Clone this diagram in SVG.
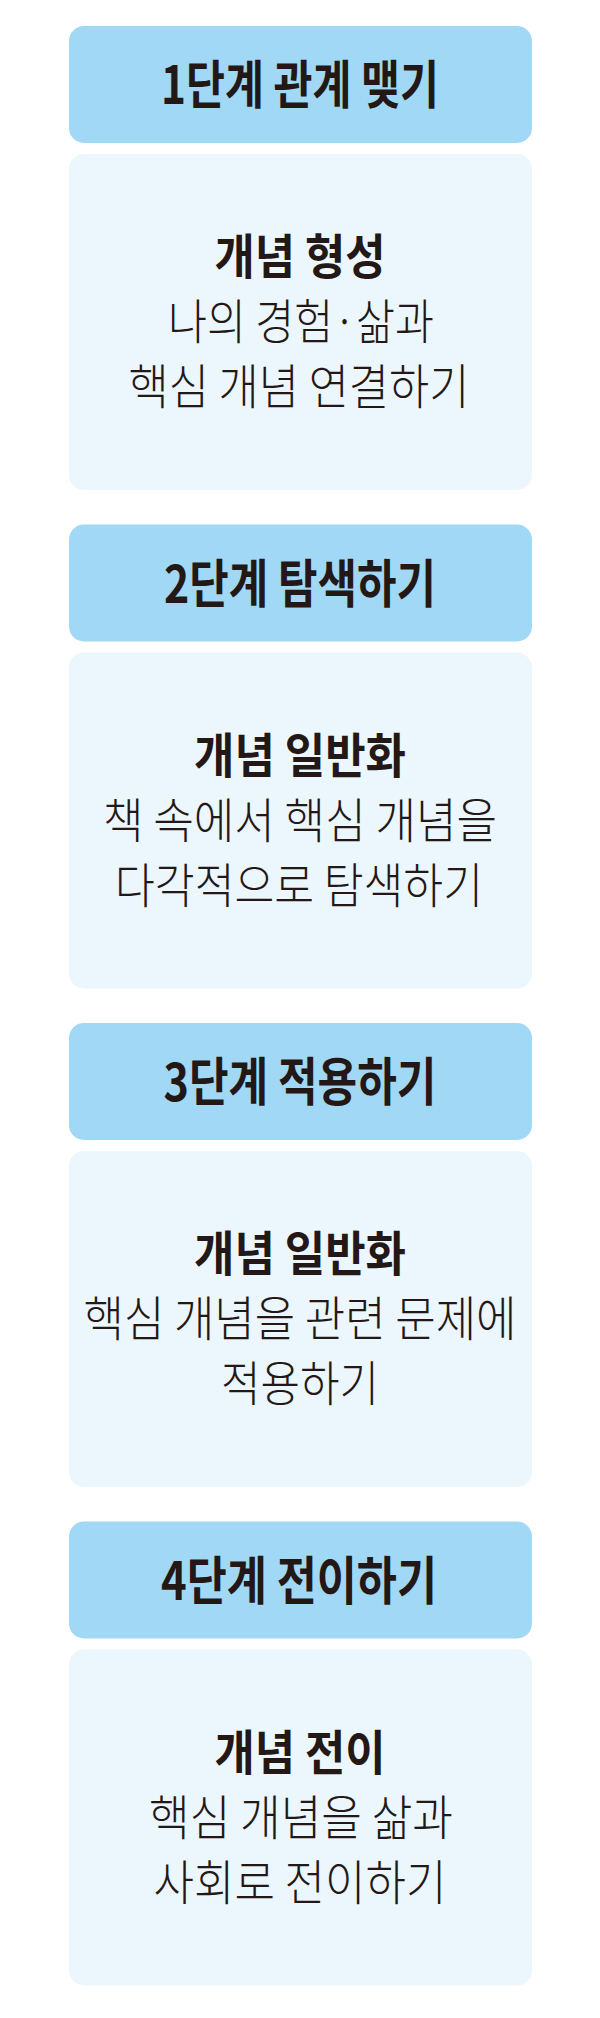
<svg xmlns="http://www.w3.org/2000/svg" width="600" height="2018" viewBox="0 0 600 2018">
<style>
.hd{fill:#A0D8F5}
.bd{fill:#EBF6FD}
text{font-family:"Noto Sans CJK KR","Noto Sans",sans-serif;fill:#231815;text-anchor:middle}
.t{font-size:52px;font-weight:700}
.b{font-size:48px;font-weight:700}
.r{font-size:48px;font-weight:300}
</style>
<rect width="600" height="2018" fill="#FFFFFF"/>
<g id="step1">
<rect class="hd" x="69" y="26" width="463" height="117" rx="15"/>
<text class="t" x="300" y="104" textLength="278" lengthAdjust="spacingAndGlyphs">1단계 관계 맺기</text>
</g>
<g id="body1">
<rect class="bd" x="69" y="154" width="463" height="336" rx="15"/>
<text class="b" x="300" y="274" textLength="171" lengthAdjust="spacingAndGlyphs">개념 형성</text>
<text class="r" x="301" y="339" textLength="266" lengthAdjust="spacingAndGlyphs">나의 경험·삶과</text>
<text class="r" x="299" y="404" textLength="341" lengthAdjust="spacingAndGlyphs">핵심 개념 연결하기</text>
</g>
<g id="step2">
<rect class="hd" x="69" y="524.5" width="463" height="117" rx="15"/>
<text class="t" x="300" y="602.5" textLength="272" lengthAdjust="spacingAndGlyphs">2단계 탐색하기</text>
</g>
<g id="body2">
<rect class="bd" x="69" y="652.5" width="463" height="336" rx="15"/>
<text class="b" x="300" y="772.5" textLength="212" lengthAdjust="spacingAndGlyphs">개념 일반화</text>
<text class="r" x="300" y="837.5" textLength="394" lengthAdjust="spacingAndGlyphs">책 속에서 핵심 개념을</text>
<text class="r" x="299" y="902.5" textLength="368" lengthAdjust="spacingAndGlyphs">다각적으로 탐색하기</text>
</g>
<g id="step3">
<rect class="hd" x="69" y="1023" width="463" height="117" rx="15"/>
<text class="t" x="300" y="1101" textLength="273" lengthAdjust="spacingAndGlyphs">3단계 적용하기</text>
</g>
<g id="body3">
<rect class="bd" x="69" y="1151" width="463" height="336" rx="15"/>
<text class="b" x="300" y="1271" textLength="212" lengthAdjust="spacingAndGlyphs">개념 일반화</text>
<text class="r" x="300" y="1336" textLength="433" lengthAdjust="spacingAndGlyphs">핵심 개념을 관련 문제에</text>
<text class="r" x="300" y="1401" textLength="158" lengthAdjust="spacingAndGlyphs">적용하기</text>
</g>
<g id="step4">
<rect class="hd" x="69" y="1521.5" width="463" height="117" rx="15"/>
<text class="t" x="299" y="1599.5" textLength="276" lengthAdjust="spacingAndGlyphs">4단계 전이하기</text>
</g>
<g id="body4">
<rect class="bd" x="69" y="1649.5" width="463" height="336" rx="15"/>
<text class="b" x="300" y="1769.5" textLength="171" lengthAdjust="spacingAndGlyphs">개념 전이</text>
<text class="r" x="301" y="1834.5" textLength="304" lengthAdjust="spacingAndGlyphs">핵심 개념을 삶과</text>
<text class="r" x="300" y="1899.5" textLength="293" lengthAdjust="spacingAndGlyphs">사회로 전이하기</text>
</g>
<g id="connectors"></g>
</svg>
